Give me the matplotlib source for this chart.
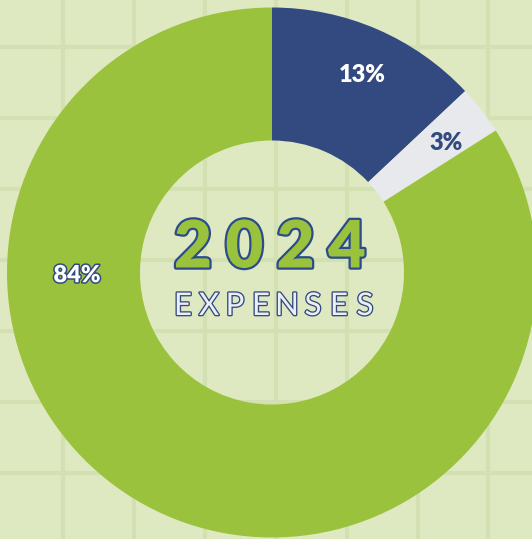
import numpy as np
import matplotlib
matplotlib.use("Agg")
import matplotlib.pyplot as plt
import matplotlib.patheffects as pe

# data
labels = ["13%", "3%", "84%"]
values = [13, 3, 84]
colors = ["#334a80", "#e8e9ec", "#9ac23c"]
label_colors = ["white", "#334a80", "white"]
year = "2024"
subtitle = "EXPENSES"

W, H = 532, 539
bg = "#dfe9c1"
grid_c = "#d3e1b2"
navy = "#334a80"
navy_outline = "#2b4b8c"

fig = plt.figure(figsize=(W / 100, H / 100), dpi=100, facecolor=bg)
ax = fig.add_axes([0, 0, 1, 1])
ax.set_facecolor(bg)

# background grid
for x in 63 + 70.9 * np.arange(7):
    ax.axvline(x, color=grid_c, lw=2.9, zorder=0)
for y in 47 + 71 * np.arange(7):
    ax.axhline(H - y, color=grid_c, lw=2.9, zorder=0)

cx, cy = 272, H - 272.5
R = 265
wedges, _ = ax.pie(values, colors=colors, startangle=90, counterclock=False,
                   radius=R, center=(cx, cy),
                   wedgeprops=dict(width=133, linewidth=0))

# percentage labels
cum = np.cumsum([0] + values[:-1])
for i, (lab, v) in enumerate(zip(labels, values)):
    if i < 2:
        mid = 90 - (cum[i] + v / 2) * 3.6 - 1
        r = 218
    else:
        mid = 180.5  # big slice label sits on the left
        r = 195
    tx = cx + r * np.cos(np.radians(mid))
    ty = cy + r * np.sin(np.radians(mid)) - 1
    effects = []
    if i == 2:
        effects = [pe.withStroke(linewidth=2.2, foreground=navy)]
    ax.text(tx, ty, lab, ha="center", va="center", fontsize=17,
            fontfamily="Lato", fontweight="heavy", color=label_colors[i],
            path_effects=effects, zorder=5)

# centre title, letter spaced
for k, ch in enumerate(year):
    ax.text(193 + 51.3 * k, H - 249, ch, ha="center", va="center",
            fontsize=47, fontfamily="Lato", fontweight="heavy",
            color="#9ac23c",
            path_effects=[pe.withStroke(linewidth=3.2, foreground=navy_outline)],
            zorder=6)

for k, ch in enumerate(subtitle):
    ax.text(183 + 26 * k, H - 306, ch, ha="center", va="center",
            fontsize=22.5, fontfamily="Lato", fontweight="normal",
            color="#eceef5",
            path_effects=[pe.withStroke(linewidth=1.9, foreground=navy)],
            zorder=6)

ax.set_xlim(0, W)
ax.set_ylim(0, H)
ax.set_aspect("auto")
ax.set_axis_off()

fig.savefig("out.png", dpi=100, facecolor=bg)
